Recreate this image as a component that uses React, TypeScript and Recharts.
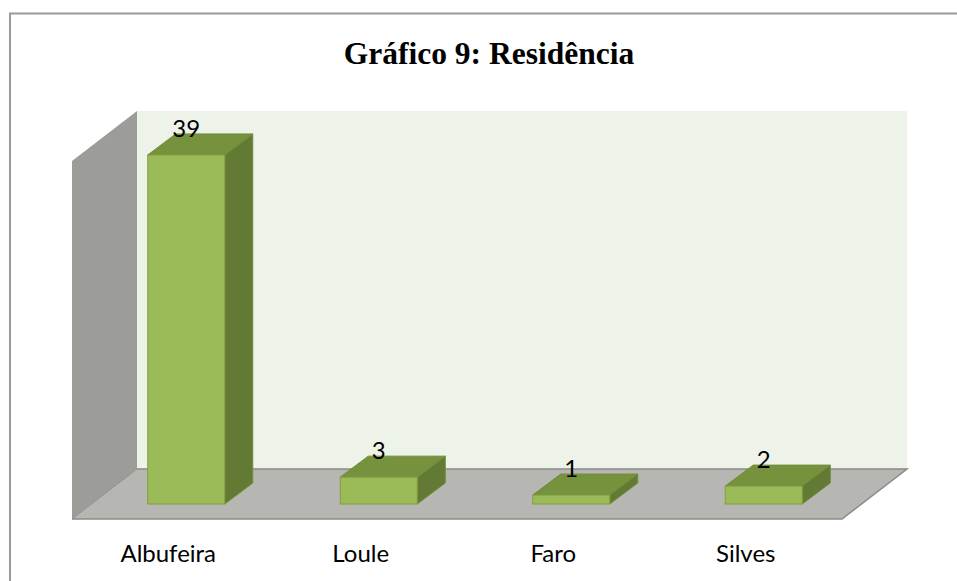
import { Bar, BarChart, LabelList, XAxis, YAxis } from 'recharts';

const cidades = ['Albufeira', 'Loule', 'Faro', 'Silves'];
const respostas = [39, 3, 1, 2];
const eixoMax = 40;

const data = cidades.map((cidade, i) => ({ cidade, total: respostas[i] }));

const W = 957;
const H = 581;
// plot area of the bars' front plane
const M = { top: 146, left: 90, right: 97, bottom: 77 };
const plotL = M.left;
const plotR = W - M.right;
const plotT = M.top;
const plotB = H - M.bottom;
// perspective offsets
const FRONT = { dx: -18, dy: 15 };
const BACK = { dx: 47, dy: -35 };
const BAR_DX = 28;
const BAR_DY = 21;

const labelFont = 'Lato, "Open Sans", sans-serif';

function Walls() {
  const bl = plotL + BACK.dx;
  const br = plotR + BACK.dx;
  const bt = plotT + BACK.dy;
  const bb = plotB + BACK.dy;
  const fl = plotL + FRONT.dx;
  const fr = plotR + FRONT.dx;
  const ft = plotT + FRONT.dy;
  const fb = plotB + FRONT.dy;
  return (
    <svg width={W} height={H} style={{ position: 'absolute', left: 0, top: 0 }}>
      <rect x={0} y={0} width={W} height={H} fill="#ffffff" />
      <rect x={10} y={13.5} width={W + 20} height={H + 20} fill="none" stroke="#9a9a9a" strokeWidth={2} />
      <text
        x={489}
        y={64}
        textAnchor="middle"
        fontFamily='"Liberation Serif", "Times New Roman", serif'
        fontWeight="bold"
        fontSize={31.5}
        fill="#000"
      >
        Gráfico 9: Residência
      </text>
      <rect x={bl} y={bt} width={br - bl} height={bb - bt} fill="#eef3e9" />
      <polygon points={`${fl},${ft} ${bl},${bt} ${bl},${bb} ${fl},${fb}`} fill="#9c9d99" />
      <polygon points={`${fl},${fb} ${bl},${bb} ${br},${bb} ${fr},${fb}`} fill="#b6b7b3" />
      <line x1={fl} y1={fb} x2={bl} y2={bb} stroke="#8e8f8b" strokeWidth={1} />
      <polyline
        points={`${bl},${bb} ${br},${bb} ${fr},${fb} ${fl},${fb}`}
        fill="none"
        stroke="#8a8a8a"
        strokeWidth={1.5}
      />
    </svg>
  );
}

function Bar3D(props: any) {
  const { x, y, width, height } = props;
  if (height == null || width == null) return null;
  const top = `${x},${y} ${x + BAR_DX},${y - BAR_DY} ${x + width + BAR_DX},${y - BAR_DY} ${x + width},${y}`;
  const side = `${x + width},${y} ${x + width + BAR_DX},${y - BAR_DY} ${x + width + BAR_DX},${y + height - BAR_DY} ${x + width},${y + height}`;
  return (
    <g>
      <polygon points={side} fill="#637a35" stroke="#6f8c38" strokeWidth={1} />
      <polygon points={top} fill="#77923d" stroke="#6f8c38" strokeWidth={1} />
      <rect x={x} y={y} width={width} height={height} fill="#9bbb59" stroke="#7f9f3f" strokeWidth={1} />
    </g>
  );
}

function ValueLabel(props: any) {
  const { x, y, width, value } = props;
  return (
    <text x={x + width / 2} y={y - BAR_DY + 3} textAnchor="middle" fontFamily={labelFont} fontSize={24} fill="#000">
      {value}
    </text>
  );
}

function CityTick(props: any) {
  const { x, y, payload } = props;
  return (
    <text x={x + FRONT.dx} y={y + 58} textAnchor="middle" fontFamily={labelFont} fontSize={24} fill="#000">
      {payload.value}
    </text>
  );
}

export default function App() {
  return (
    <div style={{ position: 'absolute', left: 0, top: 0, width: W, height: H }}>
      <Walls />
      <div style={{ position: 'absolute', left: 0, top: 0 }}>
        <BarChart width={W} height={H} data={data} margin={{ top: M.top, right: M.right, left: M.left, bottom: 0 }} barCategoryGap="30%">
          <XAxis
            dataKey="cidade"
            height={M.bottom}
            axisLine={false}
            tickLine={false}
            tickSize={0}
            tickMargin={0}
            interval={0}
            tick={<CityTick />}
          />
          <YAxis hide domain={[0, eixoMax]} />
          <Bar dataKey="total" shape={<Bar3D />} isAnimationActive={false}>
            <LabelList dataKey="total" content={<ValueLabel />} />
          </Bar>
        </BarChart>
      </div>
    </div>
  );
}
